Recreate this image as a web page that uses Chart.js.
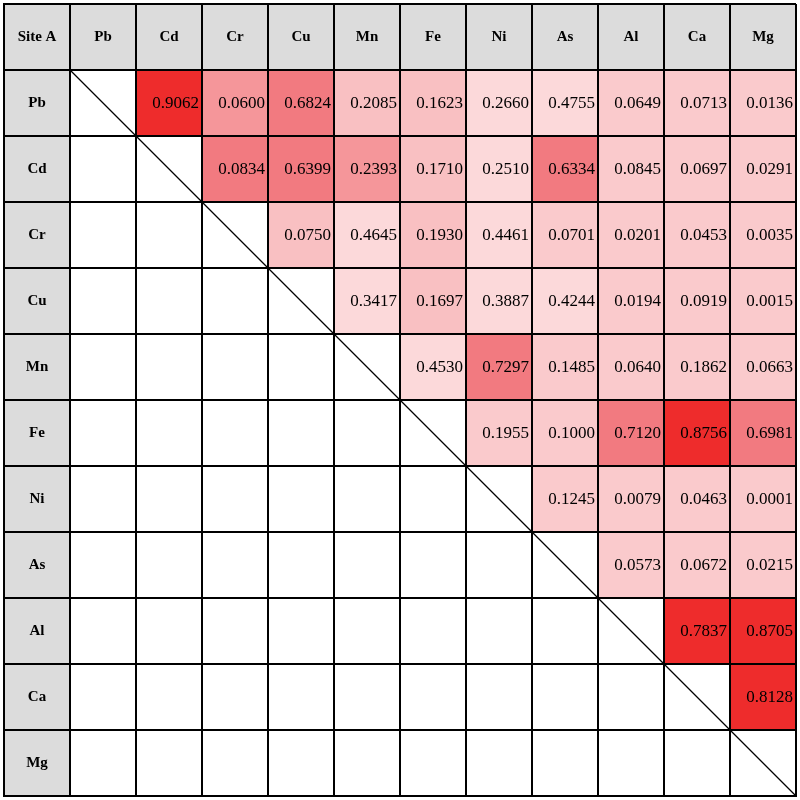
<!DOCTYPE html>
<html>
<head>
<meta charset="utf-8">
<script src="https://cdn.jsdelivr.net/npm/chart.js@4/dist/chart.umd.min.js"></script>
<style>
  body { margin: 0; background: #fff; }
  #wrap { width: 800px; height: 800px; }
</style>
</head>
<body>
<div id="wrap"><canvas id="corr-chart"></canvas></div>
<script>
const corner = "Site A";
const elements = ["Pb", "Cd", "Cr", "Cu", "Mn", "Fe", "Ni", "As", "Al", "Ca", "Mg"];

// upper triangle, each row starts just right of the diagonal
const rowPb = [0.9062, 0.0600, 0.6824, 0.2085, 0.1623, 0.2660, 0.4755, 0.0649, 0.0713, 0.0136];
const rowCd = [0.0834, 0.6399, 0.2393, 0.1710, 0.2510, 0.6334, 0.0845, 0.0697, 0.0291];
const rowCr = [0.0750, 0.4645, 0.1930, 0.4461, 0.0701, 0.0201, 0.0453, 0.0035];
const rowCu = [0.3417, 0.1697, 0.3887, 0.4244, 0.0194, 0.0919, 0.0015];
const rowMn = [0.4530, 0.7297, 0.1485, 0.0640, 0.1862, 0.0663];
const rowFe = [0.1955, 0.1000, 0.7120, 0.8756, 0.6981];
const rowNi = [0.1245, 0.0079, 0.0463, 0.0001];
const rowAs = [0.0573, 0.0672, 0.0215];
const rowAl = [0.7837, 0.8705];
const rowCa = [0.8128];

// shade class of each cell (0 = palest pink ... 5 = red)
const shadePb = [5, 3, 4, 2, 2, 0, 0, 1, 1, 1];
const shadeCd = [4, 4, 3, 2, 0, 4, 1, 1, 1];
const shadeCr = [2, 0, 2, 0, 1, 1, 1, 1];
const shadeCu = [0, 2, 0, 0, 1, 1, 1];
const shadeMn = [0, 4, 1, 1, 1, 1];
const shadeFe = [1, 1, 4, 5, 4];
const shadeNi = [1, 1, 1, 1];
const shadeAs = [1, 1, 1];
const shadeAl = [5, 5];
const shadeCa = [5];

const rows = [rowPb, rowCd, rowCr, rowCu, rowMn, rowFe, rowNi, rowAs, rowAl, rowCa];
const shades = [shadePb, shadeCd, shadeCr, shadeCu, shadeMn, shadeFe, shadeNi, shadeAs, shadeAl, shadeCa];

const labels = [corner, ...elements];
const headerGray = "#dcdcdc";

function getColor(level) {
  if (level === 0) return "#fcd9da";
  if (level === 1) return "#facacc";
  if (level === 2) return "#f9c0c2";
  if (level === 3) return "#f5969a";
  if (level === 4) return "#f27a80";
  return "#ee2c2c";
}

// one floating-bar dataset per grid row
const datasets = [];
for (let r = 0; r < labels.length; r++) {
  const data = [];
  const colors = [];
  for (let c = 0; c < labels.length; c++) {
    let fill = null;
    if (r === 0 || c === 0) fill = headerGray;
    else if (c > r) fill = getColor(shades[r - 1][c - r - 1]);
    data.push(fill ? [r, r + 1] : null);
    colors.push(fill || "rgba(0,0,0,0)");
  }
  datasets.push({
    data,
    backgroundColor: colors,
    borderWidth: 0,
    grouped: false,
    barPercentage: 1,
    categoryPercentage: 1,
  });
}

const cellText = {
  id: "cellText",
  afterDraw(chart) {
    const { ctx, scales: { x, y } } = chart;
    const w = x.getPixelForValue(1) - x.getPixelForValue(0);
    ctx.save();
    ctx.fillStyle = "#000";
    ctx.textBaseline = "middle";

    // header row and header column
    ctx.font = "bold 15px 'Liberation Serif'";
    ctx.textAlign = "center";
    labels.forEach((lab, i) => {
      ctx.fillText(lab, x.getPixelForValue(i), y.getPixelForValue(0.5));
      if (i > 0) ctx.fillText(lab, x.getPixelForValue(0), y.getPixelForValue(i + 0.5));
    });

    // coefficients, right aligned
    ctx.font = "17px 'Liberation Serif'";
    ctx.textAlign = "right";
    rows.forEach((row, r) => {
      row.forEach((v, k) => {
        const col = r + 2 + k;
        ctx.fillText(v.toFixed(4), x.getPixelForValue(col) + w / 2 - 3, y.getPixelForValue(r + 1.5) + 1);
      });
    });

    // diagonal stroke
    ctx.strokeStyle = "#000";
    ctx.lineWidth = 1.3;
    ctx.beginPath();
    ctx.moveTo(x.getPixelForValue(1) - w / 2, y.getPixelForValue(1));
    ctx.lineTo(x.getPixelForValue(labels.length - 1) + w / 2, y.getPixelForValue(labels.length));
    ctx.stroke();
    ctx.restore();
  },
};

new Chart(document.getElementById("corr-chart").getContext("2d"), {
  type: "bar",
  data: { labels, datasets },
  options: {
    responsive: true,
    maintainAspectRatio: false,
    animation: false,
    layout: { padding: { left: 4, top: 4, right: 4, bottom: 4 } },
    plugins: { legend: { display: false }, tooltip: { enabled: false } },
    scales: {
      x: {
        type: "category",
        offset: true,
        grid: { offset: true, color: "#000", lineWidth: 2, drawTicks: false, z: 1 },
        border: { color: "#000", width: 2, z: 1 },
        ticks: { display: false },
      },
      y: {
        type: "linear",
        min: 0,
        max: 12,
        reverse: true,
        grid: { color: "#000", lineWidth: 2, drawTicks: false, z: 1 },
        border: { color: "#000", width: 2, z: 1 },
        ticks: { display: false, stepSize: 1 },
      },
    },
  },
  plugins: [cellText],
});
</script>
</body>
</html>
